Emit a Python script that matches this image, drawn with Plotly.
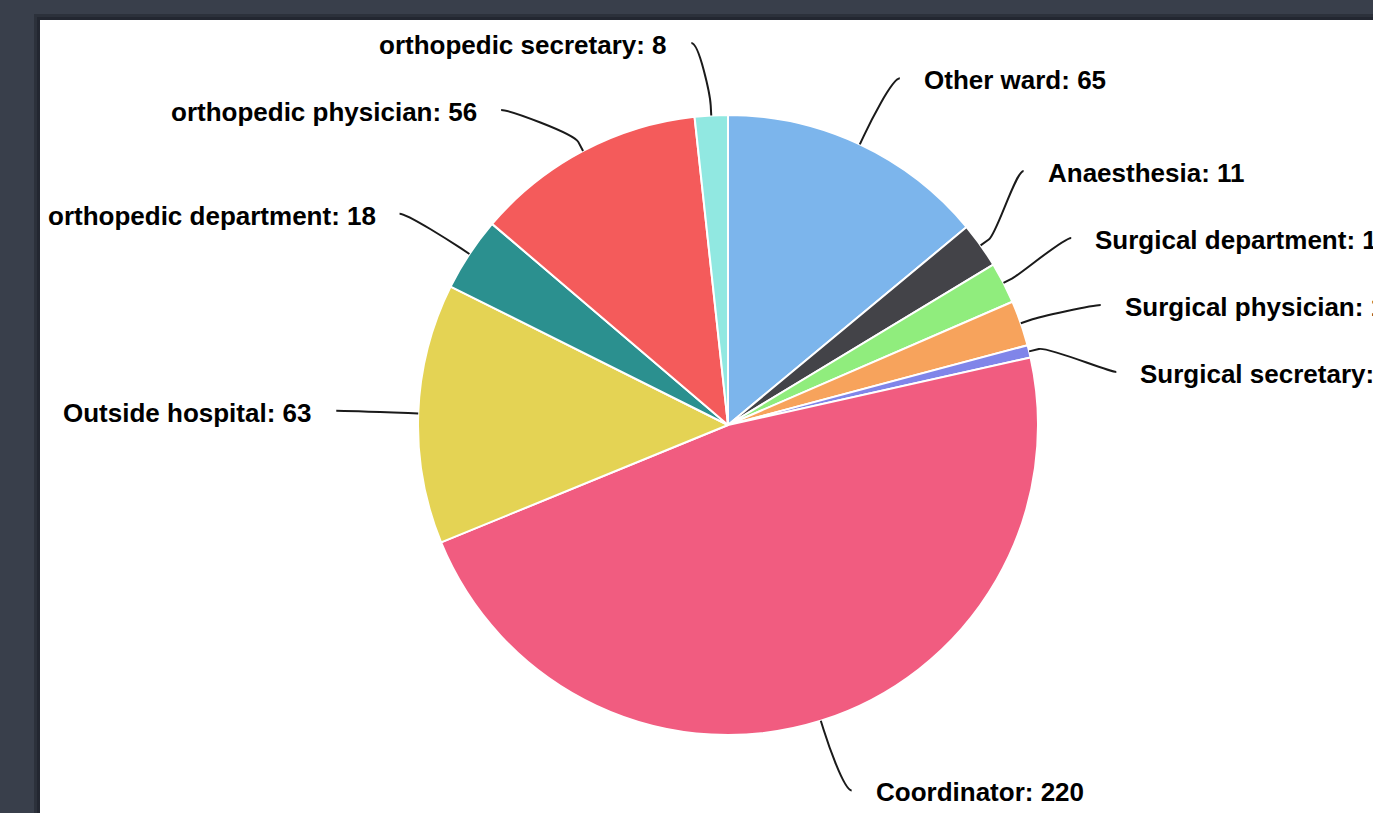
import math
import plotly.graph_objects as go

# ---- data ----
labels = ["Other ward", "Anaesthesia", "Surgical department", "Surgical physician",
          "Surgical secretary", "Coordinator", "Outside hospital",
          "orthopedic department", "orthopedic physician", "orthopedic secretary"]
values = [65, 11, 10, 11, 3, 220, 63, 18, 56, 8]
colors = ["#7cb5ec", "#434348", "#90ed7d", "#f7a35c", "#8085e9",
          "#f15c80", "#e4d354", "#2b908f", "#f45b5b", "#91e8e1"]

# ---- layout constants (pixels) ----
W, H = 1373, 813
CX, CY, RAD = 728, 425, 310
LABEL_R = 383        # radius of the label circle
LABEL_PAD = 9        # connector end offset from label circle
LABEL_GAP = 67       # min vertical spacing between labels
TEXT_GAP = 22        # gap between connector end and text
Y_MIN, Y_MAX = 43, 795


def px(x):
    return x / W


def py(y):
    return 1 - y / H


# slice mid angles (clockwise from 12 o'clock)
total = sum(values)
mids = []
acc = 0
for v in values:
    mids.append((acc + v / 2) / total * 2 * math.pi)
    acc += v


def distribute(items):
    # items: list of (target_y, idx) sorted by y
    clusters = []
    for t, i in items:
        clusters.append({"items": [(t, i)], "start": t})
        while len(clusters) > 1:
            a, b = clusters[-2], clusters[-1]
            if a["start"] + LABEL_GAP * len(a["items"]) > b["start"]:
                it = a["items"] + b["items"]
                mean = sum(x[0] for x in it) / len(it)
                clusters[-2:] = [{"items": it, "start": mean - LABEL_GAP * (len(it) - 1) / 2}]
            else:
                break
    ys, idxs = [], []
    for c in clusters:
        for k, (t, i) in enumerate(c["items"]):
            ys.append(c["start"] + k * LABEL_GAP)
            idxs.append(i)
    for k in range(len(ys)):
        lo = Y_MIN if k == 0 else ys[k - 1] + LABEL_GAP
        ys[k] = max(ys[k], lo)
    for k in range(len(ys) - 1, -1, -1):
        hi = Y_MAX if k == len(ys) - 1 else ys[k + 1] - LABEL_GAP
        ys[k] = min(ys[k], hi)
    return dict(zip(idxs, ys))


right, left = [], []
for i, a in enumerate(mids):
    ty = CY - LABEL_R * math.cos(a)
    (right if a < math.pi else left).append((ty, i))
label_y = {}
label_y.update(distribute(sorted(right)))
label_y.update(distribute(sorted(left)))

shapes = [
    dict(type="rect", xref="paper", yref="paper", x0=px(34), x1=1.01, y0=-0.01, y1=py(14),
         fillcolor="rgba(20,24,32,0.35)", line_width=0, layer="below"),
    dict(type="rect", xref="paper", yref="paper", x0=px(37), x1=1.01, y0=-0.01, y1=py(17),
         fillcolor="rgba(20,24,32,0.35)", line_width=0, layer="below"),
    dict(type="rect", xref="paper", yref="paper", x0=px(40), x1=1.01, y0=-0.01, y1=py(20),
         fillcolor="#ffffff", line_width=0, layer="below"),
]
annotations = []

for i, a in enumerate(mids):
    s, c = math.sin(a), -math.cos(a)
    is_right = a < math.pi
    sign = 1 if is_right else -1
    ly = label_y[i]
    dy = ly - CY
    lx = CX + sign * (math.sqrt(max(0.0, LABEL_R ** 2 - dy ** 2)) + LABEL_PAD)
    tx, ty = CX + RAD * s, CY + RAD * c
    bx, by = CX + (RAD + 10) * s, CY + (RAD + 10) * c
    c2x, c2y = CX + (RAD + 20) * s, CY + (RAD + 20) * c
    c1x, c1y = lx - sign * 8, ly
    path = (f"M {px(lx)},{py(ly)} C {px(c1x)},{py(c1y)} {px(c2x)},{py(c2y)} "
            f"{px(bx)},{py(by)} L {px(tx)},{py(ty)}")
    shapes.append(dict(type="path", xref="paper", yref="paper", path=path,
                       line=dict(color="#1a1a1a", width=2), layer="above"))
    annotations.append(dict(
        xref="paper", yref="paper",
        x=px(lx + sign * TEXT_GAP), y=py(ly + 2),
        xanchor="left" if is_right else "right", yanchor="middle",
        text=f"<b>{labels[i]}: {values[i]}</b>", showarrow=False,
        font=dict(family="Arial, Liberation Sans, sans-serif", size=26, color="#000000"),
    ))

fig = go.Figure(go.Pie(
    labels=labels, values=values, sort=False, direction="clockwise", rotation=0,
    marker=dict(colors=colors, line=dict(color="#ffffff", width=2)),
    textinfo="none", hoverinfo="label+value",
    domain=dict(x=[px(CX - RAD), px(CX + RAD)], y=[py(CY + RAD), py(CY - RAD)]),
))

fig.update_layout(
    width=W, height=H,
    margin=dict(l=0, r=0, t=0, b=0),
    paper_bgcolor="#393f4b",
    showlegend=False,
    shapes=shapes,
    annotations=annotations,
)

fig.write_html("out.html")
